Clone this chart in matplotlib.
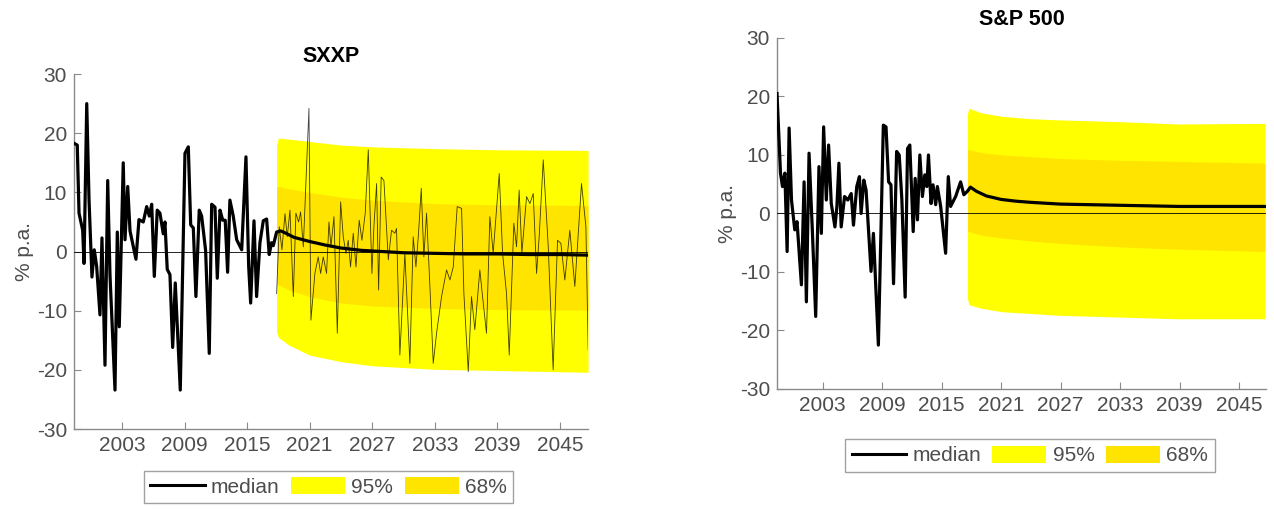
import matplotlib.pyplot as plt
import matplotlib.lines as mlines
import matplotlib.patches as mpatches

plt.rcParams['font.family'] = ['Liberation Sans', 'DejaVu Sans']
plt.rcParams['axes.unicode_minus'] = False

# ---------------- SXXP (left) ----------------
sxxp_hist_years = [1998.40, 1998.71, 1998.88, 1999.23, 1999.36, 1999.62, 1999.84, 2000.12,
                   2000.34, 2000.57, 2000.89, 2001.08, 2001.37, 2001.63, 2001.85, 2002.33,
                   2002.55, 2002.74, 2003.12, 2003.29, 2003.55, 2003.77, 2004.34, 2004.63,
                   2005.04, 2005.37, 2005.62, 2005.85, 2006.10, 2006.38, 2006.64, 2006.96,
                   2007.12, 2007.34, 2007.60, 2007.86, 2008.11, 2008.59, 2009.04, 2009.36,
                   2009.59, 2009.84, 2010.09, 2010.41, 2010.64, 2011.02, 2011.37, 2011.60,
                   2011.92, 2012.14, 2012.40, 2012.66, 2012.90, 2013.13, 2013.35, 2013.67,
                   2014.00, 2014.48, 2014.89, 2015.15, 2015.34, 2015.66, 2015.91, 2016.23,
                   2016.55, 2016.87, 2017.12, 2017.34, 2017.51]
sxxp_hist = [18.3, 18.0, 6.5, 3.6, -2.0, 25.0, 8.7, -4.3,
             0.3, -2.5, -10.7, 2.3, -19.2, 12.0, -4.0, -23.4,
             3.3, -12.7, 15.0, 2.0, 11.0, 3.5, -1.3, 5.4,
             5.0, 7.6, 6.0, 8.0, -4.2, 7.0, 6.5, 3.0,
             5.0, -3.0, -3.9, -16.2, -5.3, -23.4, 16.6, 17.7,
             4.5, 4.0, -7.6, 7.0, 6.0, 0.2, -17.2, 8.0,
             7.5, -4.5, 7.0, 5.3, 5.3, -3.5, 8.7, 6.0,
             2.0, 0.3, 16.0, -2.5, -8.7, 5.2, -7.6, 1.5,
             5.2, 5.5, -0.5, 1.5, 1.0]

sxxp_med_years = [2017.83, 2018.2, 2018.6, 2019.5, 2021, 2022.5, 2024, 2026, 2028,
                  2030, 2033, 2036, 2039, 2042, 2045, 2047.7]
sxxp_med = [3.3, 3.5, 3.2, 2.4, 1.7, 1.1, 0.6, 0.2, 0.0,
            -0.2, -0.3, -0.4, -0.4, -0.5, -0.5, -0.6]

sxxp_band_years = [2017.83, 2018.0, 2019, 2021, 2024, 2027, 2033, 2039, 2047.7]
sxxp_95_hi = [18.0, 19.2, 19.0, 18.6, 18.0, 17.7, 17.4, 17.2, 17.1]
sxxp_95_lo = [-13.5, -14.5, -15.8, -17.5, -18.6, -19.3, -19.9, -20.1, -20.4]
sxxp_68_hi = [11.0, 11.0, 10.6, 10.0, 9.2, 8.7, 8.1, 7.9, 7.8]
sxxp_68_lo = [-5.5, -5.6, -6.5, -7.6, -8.7, -9.2, -9.6, -9.8, -9.9]

# one simulated path
sxxp_path_years = [2017.83, 2018.08, 2018.34, 2018.63, 2018.85, 2019.11, 2019.43, 2019.68,
                   2019.94, 2020.13, 2020.39, 2020.93, 2021.12, 2021.50, 2021.82, 2022.05,
                   2022.30, 2022.62, 2022.85, 2023.04, 2023.33, 2023.65, 2023.97, 2024.22,
                   2024.48, 2024.70, 2024.92, 2025.18, 2025.44, 2025.75, 2026.01, 2026.33,
                   2026.62, 2026.97, 2027.16, 2027.42, 2027.61, 2027.86, 2028.12, 2028.54,
                   2028.85, 2029.17, 2029.33, 2029.65, 2030.13, 2030.61, 2030.93, 2031.19,
                   2031.44, 2031.70, 2031.95, 2032.21, 2032.53, 2032.85, 2033.17, 2033.65,
                   2034.13, 2034.45, 2034.77, 2035.15, 2035.57, 2035.79, 2036.21, 2036.52,
                   2036.84, 2037.32, 2037.58, 2037.96, 2038.28, 2038.60, 2039.18, 2039.50,
                   2039.88, 2040.14, 2040.58, 2040.84, 2041.09, 2041.35, 2041.80, 2042.12,
                   2042.44, 2042.76, 2043.01, 2043.40, 2043.88, 2044.35, 2044.77, 2045.09,
                   2045.47, 2045.95, 2046.43, 2047.07, 2047.49, 2047.71]
sxxp_path = [-7.1, 4.2, 0.3, 6.4, 2.5, 7.0, -7.6, 6.5,
             5.0, 6.7, 0.8, 24.2, -11.6, -3.7, -0.9, -3.7,
             -0.9, -3.7, 5.0, 0.8, 5.9, -13.8, 8.4, 2.5,
             -0.3, 1.9, -2.6, 3.1, -2.6, 5.3, 1.9, 6.5,
             17.2, -3.7, 4.2, 11.5, -6.5, 12.6, 12.0, -1.4,
             3.6, 3.1, 3.9, -17.5, -0.3, -18.9, 2.5, -2.6,
             3.1, 10.7, -0.9, 6.5, -5.9, -18.9, -13.8, -7.6,
             -3.1, -4.8, -2.6, 7.6, 7.3, -7.1, -20.3, -7.6,
             -13.2, -3.1, -7.6, -13.8, 5.9, -0.3, 13.2, -0.3,
             -7.1, -17.5, 4.8, 0.8, 10.4, -0.3, 9.3, 8.1,
             9.8, -3.7, 2.5, 15.5, 0.8, -20.0, 1.9, 1.4,
             -4.8, 3.6, -5.9, 11.5, 4.2, -16.6]

# ---------------- S&P 500 (right) ----------------
spx_hist_years = [1998.40, 1998.75, 1998.95, 1999.19, 1999.42, 1999.62, 1999.86, 2000.19,
                  2000.42, 2000.86, 2001.13, 2001.36, 2001.63, 2001.96, 2002.30, 2002.63,
                  2002.87, 2003.10, 2003.37, 2003.60, 2003.87, 2004.24, 2004.44, 2004.64,
                  2004.87, 2005.21, 2005.54, 2005.88, 2006.11, 2006.44, 2006.71, 2006.88,
                  2007.15, 2007.38, 2007.88, 2008.12, 2008.62, 2009.12, 2009.39, 2009.65,
                  2009.89, 2010.15, 2010.46, 2010.72, 2010.99, 2011.32, 2011.56, 2011.79,
                  2012.13, 2012.33, 2012.56, 2012.80, 2013.06, 2013.30, 2013.50, 2013.67,
                  2013.93, 2014.13, 2014.40, 2014.57, 2014.90, 2015.40, 2015.67, 2015.90,
                  2016.41, 2016.91, 2017.24]
spx_hist = [20.5, 6.9, 4.6, 6.9, -6.5, 14.6, 2.3, -2.8,
            -1.4, -12.2, 5.4, -15.1, 10.3, -2.8, -17.6, 8.0,
            -3.4, 14.8, 2.3, 11.7, 1.7, -2.3, 1.2, 8.6,
            -2.3, 2.9, 2.3, 3.4, -2.0, 4.6, 6.3, 0.0,
            5.7, 4.0, -9.9, -3.4, -22.5, 15.1, 14.8, 5.4,
            4.9, -12.0, 10.6, 10.0, 2.3, -14.3, 11.1, 11.7,
            -3.1, 6.0, -1.1, 10.0, 2.9, 6.6, 4.6, 10.0,
            1.7, 4.9, 1.5, 4.6, 1.2, -6.8, 6.3, 1.2,
            2.9, 5.4, 3.2]

spx_med_years = [2017.6, 2017.9, 2018.5, 2019.5, 2021, 2022.5, 2024, 2027, 2030,
                 2033, 2036, 2039, 2042, 2045, 2047.6]
spx_med = [3.8, 4.5, 3.8, 3.0, 2.4, 2.1, 1.9, 1.6, 1.5,
           1.4, 1.3, 1.2, 1.2, 1.2, 1.2]

spx_band_years = [2017.6, 2017.75, 2019, 2021.1, 2024, 2026.8, 2032.8, 2038.8, 2047.6]
spx_95_hi = [17.0, 18.0, 17.2, 16.6, 16.2, 16.0, 15.7, 15.3, 15.4]
spx_95_lo = [-14.5, -15.6, -16.2, -16.8, -17.1, -17.4, -17.7, -18.0, -18.0]
spx_68_hi = [10.9, 10.9, 10.4, 10.0, 9.7, 9.4, 9.1, 8.9, 8.6]
spx_68_lo = [-3.1, -3.1, -3.7, -4.2, -4.7, -5.1, -5.7, -6.1, -6.5]

x_ticks = [2003, 2009, 2015, 2021, 2027, 2033, 2039, 2045]
y_ticks = [-30, -20, -10, 0, 10, 20, 30]

c95 = '#FFFF00'
c68 = '#FFE400'
axis_grey = '#8a8a8a'
text_grey = '#4d4d4d'
fs = 15

fig = plt.figure(figsize=(12.74, 5.09), dpi=100)
ax1 = fig.add_axes([0.0581, 0.157, 0.4035, 0.6975])
ax2 = fig.add_axes([0.6099, 0.2358, 0.3838, 0.6896])


def style(ax, title):
    ax.set_xlim(1998.4, 2047.7)
    ax.set_ylim(-30, 30)
    ax.set_xticks(x_ticks)
    ax.set_yticks(y_ticks)
    ax.axhline(0, color='black', linewidth=0.6, zorder=3)
    for s in ['top', 'right']:
        ax.spines[s].set_visible(False)
    for s in ['left', 'bottom']:
        ax.spines[s].set_color(axis_grey)
        ax.spines[s].set_linewidth(1.0)
    ax.tick_params(direction='in', length=5, color=axis_grey, labelcolor=text_grey,
                   labelsize=fs, pad=5)
    ax.set_ylabel('% p.a.', fontsize=fs, color=text_grey, labelpad=2)
    ax.set_title(title, fontsize=15.5, fontweight='bold', pad=9)


# left panel
ax1.fill_between(sxxp_band_years, sxxp_95_lo, sxxp_95_hi, color=c95, linewidth=0, zorder=1)
ax1.fill_between(sxxp_band_years, sxxp_68_lo, sxxp_68_hi, color=c68, linewidth=0, zorder=2)
ax1.plot(sxxp_path_years, sxxp_path, color='black', linewidth=0.6, alpha=0.75, zorder=4)
ax1.plot(sxxp_hist_years + sxxp_med_years, sxxp_hist + sxxp_med,
         color='black', linewidth=2.3, zorder=5)
style(ax1, 'SXXP')

# right panel
ax2.fill_between(spx_band_years, spx_95_lo, spx_95_hi, color=c95, linewidth=0, zorder=1)
ax2.fill_between(spx_band_years, spx_68_lo, spx_68_hi, color=c68, linewidth=0, zorder=2)
ax2.plot(spx_hist_years + spx_med_years, spx_hist + spx_med,
         color='black', linewidth=2.3, zorder=5)
style(ax2, 'S&P 500')

# legends
handles = [mlines.Line2D([], [], color='black', linewidth=2.2),
           mpatches.Patch(facecolor=c95, edgecolor='none'),
           mpatches.Patch(facecolor=c68, edgecolor='none')]
labels = ['median', '95%', '68%']
for cx, cy in [(0.258, 0.043), (0.8085, 0.105)]:
    leg = fig.legend(handles, labels, loc='center', bbox_to_anchor=(cx, cy), ncol=3,
                     fontsize=fs, frameon=True, fancybox=False, handlelength=2.6,
                     handleheight=0.9, handletextpad=0.3, columnspacing=0.55,
                     borderpad=0.3, borderaxespad=0, edgecolor=axis_grey)
    leg.get_frame().set_linewidth(1.0)
    for t in leg.get_texts():
        t.set_color(text_grey)

fig.savefig('out.png', dpi=100)
